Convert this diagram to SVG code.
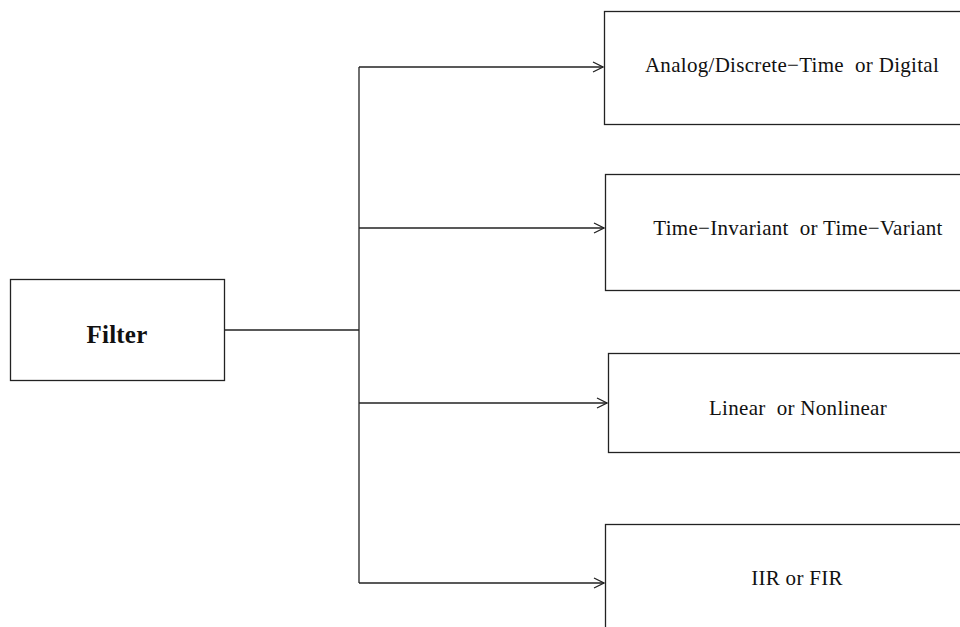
<svg xmlns="http://www.w3.org/2000/svg" width="960" height="627" viewBox="0 0 960 627">
<style>
.box{fill:#fff;stroke:#222;stroke-width:1.3}
.lbl{font-family:"Liberation Serif",serif;font-size:21px;letter-spacing:0.3px;fill:#111;text-anchor:middle;dominant-baseline:central}
.conn{fill:none;stroke:#222;stroke-width:1.3}
</style>
<defs>
<marker id="arr" markerWidth="12" markerHeight="12" refX="11" refY="6" orient="auto" markerUnits="userSpaceOnUse">
<path d="M1,1 L11,6 L1,11" fill="none" stroke="#222" stroke-width="1.3"/>
</marker>
</defs>
<rect width="960" height="627" fill="#fff"/>
<g id="connectors">
<path class="conn" d="M225,330 H359"/>
<path class="conn" d="M359,67 V583"/>
<path class="conn" d="M359,67 H603" marker-end="url(#arr)"/>
<path class="conn" d="M359,228 H604" marker-end="url(#arr)"/>
<path class="conn" d="M359,403 H607" marker-end="url(#arr)"/>
<path class="conn" d="M359,583 H604" marker-end="url(#arr)"/>
</g>
<g id="filter">
<rect class="box" x="10.5" y="279.5" width="214" height="101"/>
<text class="lbl" x="117" y="334" style="font-weight:bold;font-size:25px;letter-spacing:0.2px">Filter</text>
</g>
<g id="analog">
<rect class="box" x="604.5" y="11.5" width="370" height="113"/>
<text class="lbl" x="792" y="65" xml:space="preserve">Analog/Discrete−Time  or Digital</text>
</g>
<g id="timeinv">
<rect class="box" x="605.5" y="174.5" width="370" height="116"/>
<text class="lbl" x="798" y="228" xml:space="preserve">Time−Invariant  or Time−Variant</text>
</g>
<g id="linear">
<rect class="box" x="608.5" y="353.5" width="370" height="99"/>
<text class="lbl" x="798" y="408" xml:space="preserve">Linear  or Nonlinear</text>
</g>
<g id="iir">
<rect class="box" x="605.5" y="524.5" width="370" height="120"/>
<text class="lbl" x="797" y="578">IIR or FIR</text>
</g>
</svg>
